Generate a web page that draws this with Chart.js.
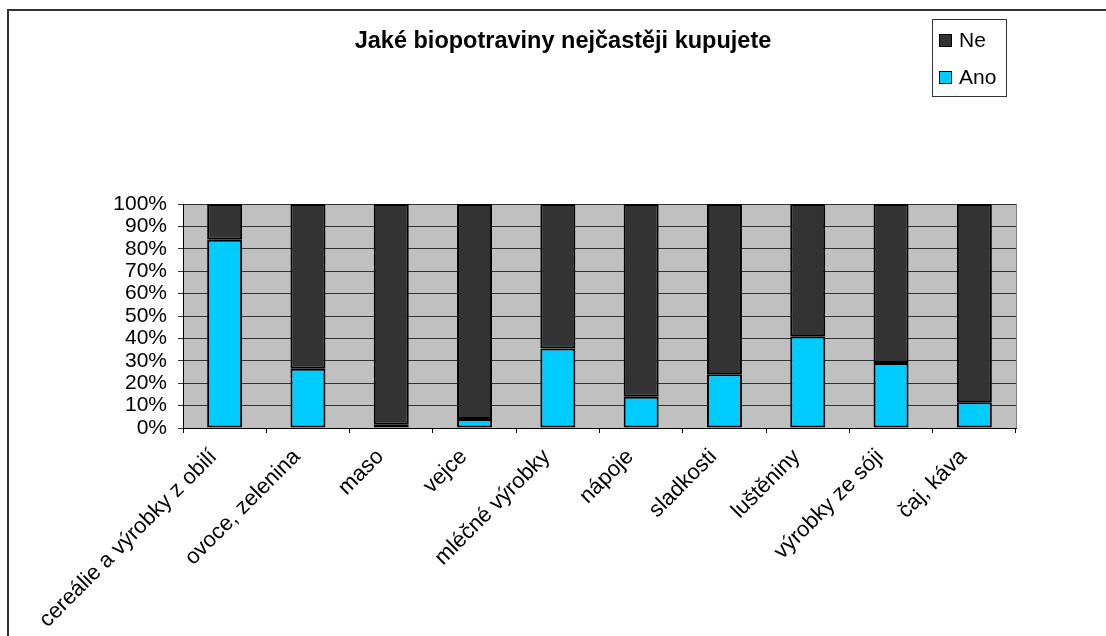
<!DOCTYPE html>
<html>
<head>
<meta charset="utf-8">
<title>Jaké biopotraviny nejčastěji kupujete</title>
<script src="https://cdn.jsdelivr.net/npm/chart.js@4/dist/chart.umd.min.js"></script>
<style>
  html, body { margin: 0; padding: 0; background: #fff; }
  #wrap { width: 1106px; height: 636px; position: relative; }
</style>
</head>
<body>
<div id="wrap"><canvas id="chart" width="1106" height="636"></canvas></div>
<script>
// data
const categories = [
  'cereálie a výrobky z obilí', 'ovoce, zelenina', 'maso', 'vejce', 'mléčné výrobky',
  'nápoje', 'sladkosti', 'luštěniny', 'výrobky ze sóji', 'čaj, káva'
];
const anoValues = [84, 26.5, 1.5, 4, 35.5, 14, 24, 41, 29, 11.5];
const neValues  = [16, 73.5, 98.5, 96, 64.5, 86, 76, 59, 71, 88.5];
const yTicks    = [0, 10, 20, 30, 40, 50, 60, 70, 80, 90, 100];

const FONT = '"Liberation Sans", Arial, sans-serif';

// grey plot area, outer frame, title and legend box (Excel look)
const decor = {
  id: 'decor',
  beforeDraw(chart) {
    const { ctx, chartArea: a } = chart;
    ctx.save();
    ctx.fillStyle = '#c0c0c0';
    ctx.fillRect(a.left, a.top, a.right - a.left, a.bottom - a.top);
    ctx.restore();
  },
  afterDraw(chart) {
    const { ctx, chartArea: a } = chart;
    ctx.save();
    // plot border (right side grey)
    ctx.strokeStyle = '#808080';
    ctx.lineWidth = 1;
    ctx.beginPath();
    ctx.moveTo(a.right + 0.5, a.top);
    ctx.lineTo(a.right + 0.5, a.bottom);
    ctx.stroke();

    // outer frame
    ctx.strokeStyle = '#333';
    ctx.lineWidth = 2;
    ctx.beginPath();
    ctx.moveTo(8, 636);
    ctx.lineTo(8, 10);
    ctx.lineTo(1106, 10);
    ctx.stroke();

    // title
    ctx.fillStyle = '#000';
    ctx.font = 'bold 23.5px ' + FONT;
    ctx.textAlign = 'center';
    ctx.textBaseline = 'middle';
    ctx.fillText('Jaké biopotraviny nejčastěji kupujete', 563, 42);

    // legend
    ctx.fillStyle = '#fff';
    ctx.fillRect(932, 19, 74, 77);
    ctx.strokeStyle = '#333';
    ctx.lineWidth = 1;
    ctx.strokeRect(932.5, 19.5, 74, 77);
    const items = [chart.data.datasets[1], chart.data.datasets[0]];
    ctx.font = '21px ' + FONT;
    ctx.textAlign = 'left';
    items.forEach((ds, i) => {
      const cy = 40 + i * 37;
      ctx.fillStyle = ds.backgroundColor;
      ctx.fillRect(939, cy - 6, 12, 12);
      ctx.strokeStyle = '#000';
      ctx.strokeRect(939.5, cy - 5.5, 12, 12);
      ctx.fillStyle = '#000';
      ctx.fillText(ds.label, 959, cy + 1);
    });
    ctx.restore();
  }
};

new Chart(document.getElementById('chart'), {
  type: 'bar',
  data: {
    labels: categories,
    datasets: [
      { label: 'Ano', data: anoValues, backgroundColor: '#00ccff', borderColor: '#000', borderWidth: 2,
        borderSkipped: false, barPercentage: 0.42, categoryPercentage: 1 },
      { label: 'Ne', data: neValues, backgroundColor: '#333333', borderColor: '#000', borderWidth: 2,
        borderSkipped: false, barPercentage: 0.42, categoryPercentage: 1 },
    ],
  },
  options: {
    responsive: false,
    animation: false,
    layout: { padding: { top: 204, right: 90, left: 0, bottom: 0 } },
    plugins: { legend: { display: false }, title: { display: false }, tooltip: { enabled: false } },
    scales: {
      x: {
        stacked: true,
        afterFit(scale) { scale.height = 208; },
        grid: { drawOnChartArea: false, color: '#000', tickLength: 5 },
        border: { color: '#000', width: 1 },
        ticks: { color: '#000', font: { family: FONT, size: 22 }, minRotation: 45, maxRotation: 45,
          autoSkip: false, padding: 11, labelOffset: -11 },
      },
      y: {
        stacked: true,
        min: 0,
        max: 100,
        afterFit(scale) { scale.width = 183; },
        afterBuildTicks(scale) { scale.ticks = yTicks.map((v) => ({ value: v })); },
        grid: { color: '#333', lineWidth: 1, tickLength: 5 },
        border: { color: '#000', width: 1 },
        ticks: { color: '#000', font: { family: FONT, size: 21 }, padding: 11, autoSkip: false,
          callback: (v) => v + '%' },
      },
    },
  },
  plugins: [decor],
});
</script>
</body>
</html>
